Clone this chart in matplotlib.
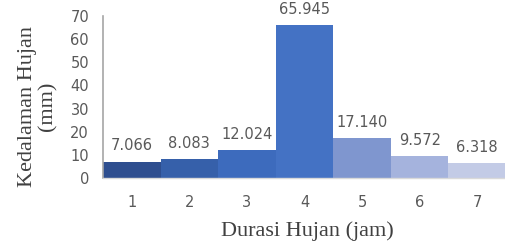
import matplotlib
matplotlib.use("Agg")
import matplotlib.pyplot as plt

categories = ["1", "2", "3", "4", "5", "6", "7"]
values = [7.066, 8.083, 12.024, 65.945, 17.140, 9.572, 6.318]
value_labels = ["7.066", "8.083", "12.024", "65.945", "17.140", "9.572", "6.318"]
colors = ["#2e4e8f", "#3660aa", "#3d6bbd", "#4472c4", "#7f96cf", "#a5b3dd", "#c3cbe6"]

W, H = 506, 243
fig = plt.figure(figsize=(W / 100, H / 100), dpi=100)
ax = fig.add_axes([103 / W, (H - 178) / H, 403 / W, 162 / H])

x = list(range(len(categories)))
ax.bar(x, values, width=1.0, color=colors, edgecolor="none")
ax.set_xlim(-0.5, len(categories) - 0.5)
ax.set_ylim(0, 70)
ax.set_yticks(range(0, 71, 10))
ax.set_xticks(x)
ax.set_xticklabels(categories)

tick_color = "#595959"
ax.tick_params(axis="both", length=0, labelsize=10.5, colors=tick_color)
ax.tick_params(axis="y", pad=10)
ax.tick_params(axis="x", pad=12)

for xi, v, lab in zip(x, values, value_labels):
    ax.annotate(lab, (xi, v), xytext=(0, 6), textcoords="offset points",
                ha="center", va="bottom", fontsize=10.5, color=tick_color,
                annotation_clip=False)

for s in ["top", "right"]:
    ax.spines[s].set_visible(False)
ax.spines["left"].set_color("#a6a6a6")
ax.spines["left"].set_linewidth(1.2)
ax.spines["bottom"].set_color("#d9d9d9")
ax.spines["bottom"].set_linewidth(1.0)

serif = ["Liberation Serif", "DejaVu Serif"]
fig.text(307 / W, 1 - 231 / H, "Durasi Hujan (jam)", family=serif, fontsize=16,
         color="#404040", ha="center", va="center")
fig.text(38 / W, 1 - 106 / H, "Kedalaman Hujan\n(mm)", family=serif, fontsize=16,
         color="#404040", ha="center", va="center", rotation=90, linespacing=1.1,
         multialignment="center")

fig.savefig("out.png", dpi=100)
